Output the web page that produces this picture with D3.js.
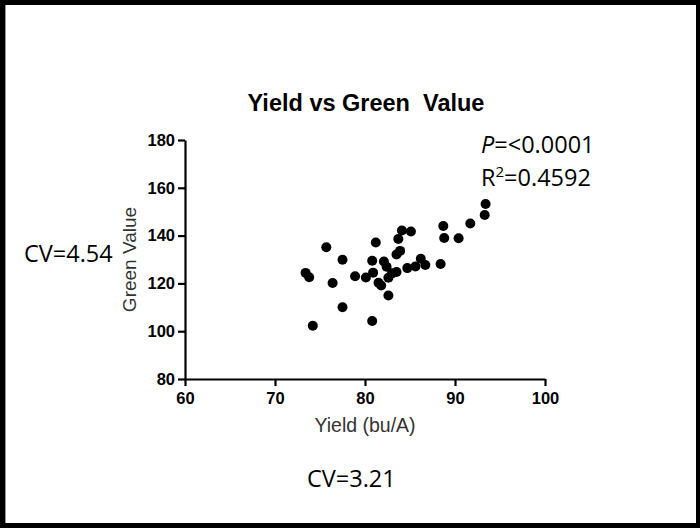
<!DOCTYPE html>
<html>
<head>
<meta charset="utf-8">
<script src="https://cdn.jsdelivr.net/npm/d3@7"></script>
<style>
  html, body { margin: 0; padding: 0; background: #fff; }
  svg { display: block; }
</style>
</head>
<body>
<script>
// Yield (bu/A) vs Green Value, one point per plot
const yieldVals = [73.4, 73.8, 74.2, 75.7, 76.4, 77.5, 77.5, 78.9, 80.1, 80.8,
                   81.2, 80.8, 80.9, 82.1, 82.4, 81.5, 81.8, 82.6, 82.6, 83.0,
                   83.5, 83.5, 83.9, 83.7, 84.1, 85.1, 84.7, 85.6, 86.2, 86.7,
                   88.4, 88.7, 88.8, 90.4, 91.7, 93.3, 93.4];
const greenVals = [124.4, 122.6, 102.3, 135.1, 120.2, 129.9, 110.0, 123.0, 122.5, 104.3,
                   137.1, 129.5, 124.5, 129.2, 127.0, 120.3, 119.1, 122.4, 114.9, 124.2,
                   124.8, 132.1, 133.6, 138.6, 142.1, 141.7, 126.4, 127.1, 130.3, 127.7,
                   128.1, 144.0, 139.0, 138.9, 145.1, 148.6, 153.2];

const xTicks = [60, 70, 80, 90, 100];
const yTicks = [80, 100, 120, 140, 160, 180];

const W = 700, H = 528;
const svg = d3.select("body").append("svg").attr("width", W).attr("height", H);

// slide frame
svg.append("rect").attr("width", W).attr("height", H).attr("fill", "#000");
svg.append("rect").attr("x", 5).attr("y", 5).attr("width", 691).attr("height", 518)
  .attr("fill", "#fff");
svg.append("line").attr("x1", 5.5).attr("x2", 5.5).attr("y1", 5).attr("y2", 523)
  .attr("stroke", "#999").attr("stroke-width", 1);

const x = d3.scaleLinear().domain([60, 100]).range([185, 545]);
const y = d3.scaleLinear().domain([80, 180]).range([379, 140]);

// title
svg.append("text")
  .attr("x", 366).attr("y", 111)
  .attr("text-anchor", "middle")
  .attr("font-family", "Liberation Sans, Arial, sans-serif")
  .attr("font-weight", "bold").attr("font-size", 23.5)
  .attr("fill", "#000")
  .attr("xml:space", "preserve")
  .text("Yield vs Green  Value");

// axes
const yAxis = svg.append("g")
  .attr("transform", `translate(${x(60)},0)`)
  .call(d3.axisLeft(y).tickValues(yTicks).tickSize(7).tickSizeOuter(0).tickPadding(3));
const xAxis = svg.append("g")
  .attr("transform", `translate(0,${y(80)})`)
  .call(d3.axisBottom(x).tickValues(xTicks).tickSize(7).tickSizeOuter(0).tickPadding(6));

[xAxis, yAxis].forEach(g => {
  g.selectAll("path, line").attr("stroke", "#000").attr("stroke-width", 2.2);
  g.selectAll("text")
    .attr("font-family", "Liberation Sans, Arial, sans-serif")
    .attr("font-weight", "bold").attr("font-size", 16.5)
    .attr("fill", "#000");
});

// axis titles
svg.append("text")
  .attr("x", (x(60) + x(100)) / 2).attr("y", 432)
  .attr("text-anchor", "middle")
  .attr("font-family", "Liberation Sans, Arial, sans-serif")
  .attr("font-size", 19.5).attr("fill", "#333")
  .text("Yield (bu/A)");

svg.append("text")
  .attr("transform", `translate(136,${(y(80) + y(180)) / 2}) rotate(-90)`)
  .attr("text-anchor", "middle")
  .attr("font-family", "Liberation Sans, Arial, sans-serif")
  .attr("font-size", 19).attr("fill", "#333")
  .text("Green Value");

// points
svg.append("g").selectAll("circle")
  .data(yieldVals.map((v, i) => [v, greenVals[i]]))
  .join("circle")
  .attr("cx", d => x(d[0]))
  .attr("cy", d => y(d[1]))
  .attr("r", 5)
  .attr("fill", "#000");

// statistics annotations
const ann = { "font-family": "Open Sans, sans-serif", "font-size": 23.5, "fill": "#000" };
function annText(px, py) {
  const t = svg.append("text").attr("x", px).attr("y", py);
  Object.entries(ann).forEach(([k, v]) => t.attr(k, v));
  return t;
}
const pText = annText(481, 153);
pText.append("tspan").attr("font-style", "italic").text("P");
pText.append("tspan").text("=<0.0001");

const rText = annText(481, 186);
rText.append("tspan").text("R");
rText.append("tspan").attr("font-size", 15).attr("dy", -9).text("2");
rText.append("tspan").attr("dy", 9).text("=0.4592");

annText(24, 262).text("CV=4.54");
annText(307, 487).text("CV=3.21");
</script>
</body>
</html>
